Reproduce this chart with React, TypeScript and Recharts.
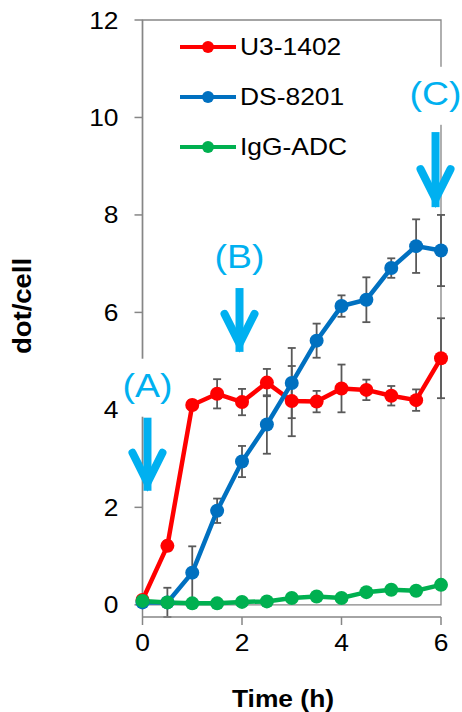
import React from 'react';
import {
  LineChart, Line, XAxis, YAxis, ErrorBar, Legend, ReferenceArea, ReferenceDot, ReferenceLine,
} from 'recharts';

const times = [0, 0.5, 1, 1.5, 2, 2.5, 3, 3.5, 4, 4.5, 5, 5.5, 6];
const u3Values = [0.1, 1.21, 4.1, 4.33, 4.16, 4.56, 4.18, 4.17, 4.44, 4.41, 4.29, 4.2, 5.06];
const u3Errors = [0.05, 0.1, 0.1, 0.3, 0.27, 0.28, 0.72, 0.22, 0.49, 0.21, 0.2, 0.22, 0.82];
const dsValues = [0.05, 0.05, 0.66, 1.93, 2.94, 3.7, 4.55, 5.42, 6.13, 6.26, 6.91, 7.36, 7.27];
const dsErrors = [0.05, 0.3, 0.54, 0.25, 0.32, 0.6, 0.72, 0.35, 0.22, 0.46, 0.2, 0.55, 0.73];
const iggValues = [0.08, 0.05, 0.03, 0.03, 0.06, 0.07, 0.14, 0.17, 0.14, 0.26, 0.31, 0.29, 0.41];
const iggErrors = [0.03, 0.03, 0.03, 0.03, 0.03, 0.03, 0.03, 0.03, 0.03, 0.03, 0.03, 0.03, 0.03];

const seriesNames = ['U3-1402', 'DS-8201', 'IgG-ADC'];
const seriesColors = ['#FF0000', '#0070C0', '#00B050'];

const xTicks = [0, 2, 4, 6];
const yTicks = [0, 2, 4, 6, 8, 10, 12];

const annotLabels = ['(A)', '(B)', '(C)'];
const annotX = [0.1, 1.95, 5.89];
const annotLabelY = [4.27, 6.91, 10.26];
const annotShaftTop = [3.84, 6.52, 9.7];
const annotTip = [2.34, 5.19, 8.16];

const data = times.map((t, i) => ({
  t,
  u3: u3Values[i], u3Err: u3Errors[i],
  ds: dsValues[i], dsErr: dsErrors[i],
  igg: iggValues[i], iggErr: iggErrors[i],
}));

const FONT = '"Liberation Sans", Arial, sans-serif';
const AXIS = '#868686';
const ERR = '#595959';
const ARROW = '#00B0F0';

const YTick = (props: any) => {
  const { x, y, payload } = props;
  return (
    <text transform={`translate(${x},${y}) scale(1.1,1)`} textAnchor="end" dy="0.355em"
      fontSize={24} fontFamily={FONT} fill="#000">{payload.value}</text>
  );
};

const XTick = (props: any) => {
  const { x, y, payload } = props;
  return (
    <text transform={`translate(${x},${y}) scale(1.1,1)`} textAnchor="middle" dy="0.71em"
      fontSize={24} fontFamily={FONT} fill="#000">{payload.value}</text>
  );
};

const renderLegend = () => (
  <div>
    {seriesNames.map((name, i) => (
      <div key={name} style={{ display: 'flex', alignItems: 'center', height: 50 }}>
        <svg width={60} height={20} style={{ display: 'block' }}>
          <line x1={2} x2={58} y1={10} y2={10} stroke={seriesColors[i]} strokeWidth={4} />
          <circle cx={30} cy={10} r={6} fill={seriesColors[i]} />
        </svg>
        <span style={{
          fontFamily: FONT, fontSize: 24, lineHeight: 1, display: 'inline-block', marginLeft: 2,
          transform: 'scaleX(1.1)', transformOrigin: 'left center', color: '#000', whiteSpace: 'nowrap',
        }}>{name}</span>
      </div>
    ))}
  </div>
);

const LabelShape = (label: string) => (props: any) => {
  const { cx, cy } = props;
  return (
    <g>
      <rect x={cx - 28} y={cy - 38} width={56} height={58} fill="#fff" />
      <text transform={`translate(${cx},${cy}) scale(1.1,1)`} textAnchor="middle"
        fontSize={34} fontFamily={FONT} fill={ARROW}>{label}</text>
    </g>
  );
};

const HeadShape = (props: any) => {
  const { cx, cy } = props;
  return (
    <path d={`M ${cx - 15} ${cy - 38} L ${cx} ${cy - 8} L ${cx + 15} ${cy - 38}`}
      fill="none" stroke={ARROW} strokeWidth={8} strokeLinecap="round" strokeLinejoin="miter" strokeMiterlimit={10} />
  );
};

export default function App() {
  return (
    <div style={{ position: 'absolute', left: 0, top: 0, width: 462, height: 712, background: '#fff' }}>
      <LineChart width={462} height={712} data={data}
        margin={{ top: 20, right: 21, bottom: 35, left: 42.5 }}>
        <ReferenceArea x1={0} x2={6} y1={0} y2={12} fill="none" stroke={AXIS} strokeWidth={1.3} />
        <XAxis dataKey="t" type="number" domain={[0, 6]} ticks={xTicks} height={60}
          axisLine={{ stroke: AXIS, strokeWidth: 1.5 }} tickLine={{ stroke: AXIS, strokeWidth: 1.5 }}
          tickSize={8} tickMargin={9} tick={<XTick />} interval={0}
          label={{
            content: () => (
              <text transform="translate(283,707) scale(1.1,1)" textAnchor="middle" fontSize={24}
                fontWeight="bold" fontFamily={FONT} fill="#000">Time (h)</text>
            ),
          }} />
        <YAxis type="number" domain={[0, 12]} ticks={yTicks} width={100}
          axisLine={{ stroke: AXIS, strokeWidth: 1.5 }} tickLine={{ stroke: AXIS, strokeWidth: 1.5 }}
          tickSize={8} tickMargin={16} tick={<YTick />} interval={0}
          label={{
            content: () => (
              <text transform="translate(31,306) rotate(-90) scale(1.1,1)" textAnchor="middle" fontSize={25}
                fontWeight="bold" fontFamily={FONT} fill="#000">dot/cell</text>
            ),
          }} />
        <Line dataKey="u3" name={seriesNames[0]} stroke={seriesColors[0]} strokeWidth={4.5} type="linear"
          dot={{ r: 7, fill: seriesColors[0], stroke: 'none' }} isAnimationActive={false}>
          <ErrorBar dataKey="u3Err" direction="y" width={4} stroke={ERR} strokeWidth={1.8} />
        </Line>
        <Line dataKey="ds" name={seriesNames[1]} stroke={seriesColors[1]} strokeWidth={4.5} type="linear"
          dot={{ r: 7, fill: seriesColors[1], stroke: 'none' }} isAnimationActive={false}>
          <ErrorBar dataKey="dsErr" direction="y" width={4} stroke={ERR} strokeWidth={1.8} />
        </Line>
        <Line dataKey="igg" name={seriesNames[2]} stroke={seriesColors[2]} strokeWidth={4.5} type="linear"
          dot={{ r: 7, fill: seriesColors[2], stroke: 'none' }} isAnimationActive={false}>
          <ErrorBar dataKey="iggErr" direction="y" width={4} stroke={ERR} strokeWidth={1.8} />
        </Line>
        <Legend content={renderLegend} layout="vertical" align="center" verticalAlign="middle"
          wrapperStyle={{ position: 'absolute', left: 178, top: 22, width: 220 }} />
        {annotLabels.map((lab, i) => (
          <ReferenceLine key={`s${i}`} segment={[{ x: annotX[i], y: annotShaftTop[i] }, { x: annotX[i], y: annotTip[i] }]}
            stroke={ARROW} strokeWidth={8} ifOverflow="visible" />
        ))}
        {annotLabels.map((lab, i) => (
          <ReferenceDot key={`h${i}`} x={annotX[i]} y={annotTip[i]} r={1} shape={HeadShape} ifOverflow="visible" />
        ))}
        {annotLabels.map((lab, i) => (
          <ReferenceDot key={`l${i}`} x={annotX[i]} y={annotLabelY[i]} r={1} shape={LabelShape(lab)} ifOverflow="visible" />
        ))}
      </LineChart>
    </div>
  );
}
